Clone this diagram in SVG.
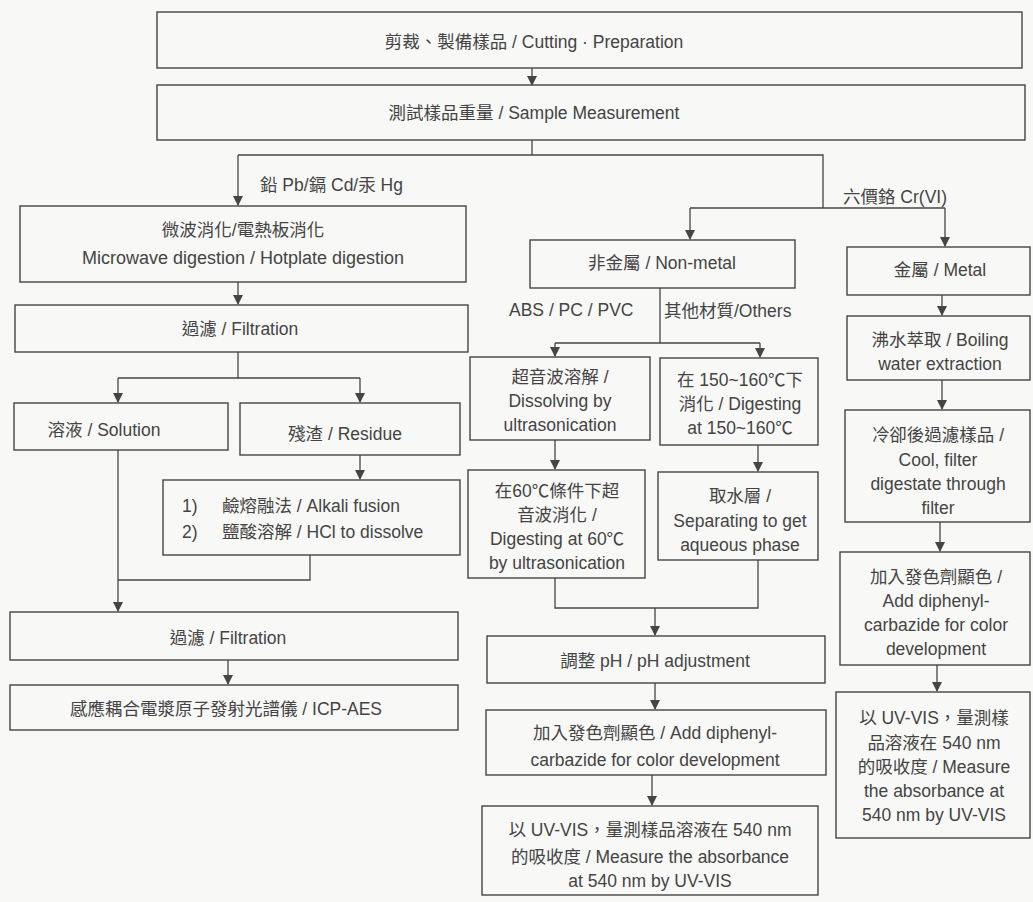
<svg xmlns="http://www.w3.org/2000/svg" width="1033" height="902" viewBox="0 0 1033 902">
<style>
.bx{fill:none;stroke:#454545;stroke-width:1.4}
.ln{fill:none;stroke:#454545;stroke-width:1.3}
.ar{fill:none;stroke:#454545;stroke-width:1.3;marker-end:url(#ah)}
text{font-family:"Liberation Sans","Noto Sans CJK TC",sans-serif;font-size:17.5px;fill:#444;text-anchor:middle}
.lbl{text-anchor:start}
</style>
<defs>
<marker id="ah" viewBox="0 0 10 10" refX="9" refY="5" markerWidth="10" markerHeight="10" markerUnits="userSpaceOnUse" orient="auto">
<path d="M0,0 L10,5 L0,10 z" fill="#454545"/>
</marker>
</defs>
<rect width="1033" height="902" fill="#f8f8f6"/>

<g id="connectors">
<line class="ar" x1="532" y1="68" x2="532" y2="85"/>
<polyline class="ln" points="532,140 532,155"/>
<polyline class="ln" points="238,155 823,155 823,208"/>
<line class="ar" x1="238" y1="155" x2="238" y2="205"/>
<line class="ar" x1="238" y1="282" x2="238" y2="304"/>
<polyline class="ln" points="238,352 238,378"/>
<polyline class="ln" points="118,378 360,378"/>
<line class="ar" x1="118" y1="378" x2="118" y2="402"/>
<line class="ar" x1="360" y1="378" x2="360" y2="402"/>
<line class="ar" x1="360" y1="455" x2="360" y2="479"/>
<polyline class="ln" points="118,450 118,580"/>
<polyline class="ln" points="310,555 310,580 118,580"/>
<line class="ar" x1="118" y1="580" x2="118" y2="611"/>
<line class="ar" x1="228" y1="660" x2="228" y2="684"/>
<polyline class="ln" points="690,208 945,208"/>
<line class="ar" x1="690" y1="208" x2="690" y2="239"/>
<line class="ar" x1="945" y1="208" x2="945" y2="246"/>
<polyline class="ln" points="660,288 660,343"/>
<polyline class="ln" points="555,343 760,343"/>
<line class="ar" x1="555" y1="343" x2="555" y2="356"/>
<line class="ar" x1="760" y1="343" x2="760" y2="357"/>
<line class="ar" x1="555" y1="440" x2="555" y2="469"/>
<line class="ar" x1="758" y1="445" x2="758" y2="471"/>
<polyline class="ln" points="555,578 555,608 758,608 758,560"/>
<line class="ar" x1="655" y1="608" x2="655" y2="635"/>
<line class="ar" x1="655" y1="683" x2="655" y2="709"/>
<line class="ar" x1="652" y1="775" x2="652" y2="805"/>
<line class="ar" x1="942" y1="295" x2="942" y2="315"/>
<line class="ar" x1="942" y1="380" x2="942" y2="409"/>
<line class="ar" x1="940" y1="522" x2="940" y2="551"/>
<line class="ar" x1="937" y1="665" x2="937" y2="691"/>
<text class="lbl" x="260" y="191">鉛 Pb/鎘 Cd/汞 Hg</text>
<text class="lbl" x="843" y="203">六價鉻 Cr(VI)</text>
<text class="lbl" x="509" y="316">ABS / PC / PVC</text>
<text class="lbl" x="664" y="317">其他材質/Others</text>
</g>

<g id="n1"><rect class="bx" x="157" y="12" width="865" height="56"/><text x="534" y="48">剪裁、製備樣品 / Cutting · Preparation</text></g>
<g id="n2"><rect class="bx" x="157" y="85" width="868" height="55"/><text x="534" y="119">測試樣品重量 / Sample Measurement</text></g>

<g id="n3"><rect class="bx" x="20" y="206" width="446" height="76"/><text x="243" y="236">微波消化/電熱板消化</text><text x="243" y="264" style="font-size:18px">Microwave digestion / Hotplate digestion</text></g>
<g id="n4"><rect class="bx" x="15" y="305" width="453" height="47"/><text x="240" y="335">過濾 / Filtration</text></g>
<g id="n5"><rect class="bx" x="14" y="403" width="214" height="47"/><text x="104" y="436">溶液 / Solution</text></g>
<g id="n6"><rect class="bx" x="240" y="403" width="220" height="52"/><text x="345" y="440">殘渣 / Residue</text></g>
<g id="n7"><rect class="bx" x="163" y="480" width="297" height="75"/><text class="lbl" x="182" y="512">1)</text><text class="lbl" x="222" y="512">鹼熔融法 / Alkali fusion</text><text class="lbl" x="182" y="538">2)</text><text class="lbl" x="222" y="538">鹽酸溶解 / HCl to dissolve</text></g>
<g id="n8"><rect class="bx" x="10" y="612" width="448" height="48"/><text x="228" y="644">過濾 / Filtration</text></g>
<g id="n9"><rect class="bx" x="10" y="685" width="448" height="45"/><text x="226" y="715">感應耦合電漿原子發射光譜儀 / ICP-AES</text></g>

<g id="n10"><rect class="bx" x="530" y="240" width="265" height="48"/><text x="662" y="269">非金屬 / Non-metal</text></g>
<g id="n11"><rect class="bx" x="847" y="247" width="183" height="48"/><text x="940" y="276">金屬 / Metal</text></g>

<g id="n12"><rect class="bx" x="470" y="357" width="180" height="83"/><text x="560" y="383">超音波溶解 /</text><text x="560" y="407">Dissolving by</text><text x="560" y="431">ultrasonication</text></g>
<g id="n13"><rect class="bx" x="660" y="358" width="158" height="87"/><text x="740" y="386">在 150~160℃下</text><text x="740" y="410">消化 / Digesting</text><text x="740" y="434">at 150~160℃</text></g>
<g id="n14"><rect class="bx" x="468" y="470" width="177" height="108"/><text x="557" y="497">在60℃條件下超</text><text x="557" y="521">音波消化 /</text><text x="557" y="545">Digesting at 60℃</text><text x="557" y="569">by ultrasonication</text></g>
<g id="n15"><rect class="bx" x="658" y="472" width="160" height="88"/><text x="740" y="502">取水層 /</text><text x="740" y="527">Separating to get</text><text x="740" y="551">aqueous phase</text></g>
<g id="n16"><rect class="bx" x="487" y="636" width="338" height="47"/><text x="655" y="667">調整 pH / pH adjustment</text></g>
<g id="n17"><rect class="bx" x="486" y="710" width="340" height="65"/><text x="655" y="739">加入發色劑顯色 / Add diphenyl-</text><text x="655" y="766">carbazide for color development</text></g>
<g id="n18"><rect class="bx" x="482" y="806" width="336" height="89"/><text x="650" y="836">以 UV-VIS，量測樣品溶液在 540 nm</text><text x="650" y="863">的吸收度 / Measure the absorbance</text><text x="650" y="887">at 540 nm by UV-VIS</text></g>

<g id="n19"><rect class="bx" x="847" y="316" width="183" height="64"/><text x="940" y="346">沸水萃取 / Boiling</text><text x="940" y="370">water extraction</text></g>
<g id="n20"><rect class="bx" x="845" y="410" width="185" height="112"/><text x="938" y="441">冷卻後過濾樣品 /</text><text x="938" y="466">Cool, filter</text><text x="938" y="490">digestate through</text><text x="938" y="514">filter</text></g>
<g id="n21"><rect class="bx" x="840" y="552" width="190" height="113"/><text x="936" y="583">加入發色劑顯色 /</text><text x="936" y="607">Add diphenyl-</text><text x="936" y="631">carbazide for color</text><text x="936" y="655">development</text></g>
<g id="n22"><rect class="bx" x="836" y="692" width="194" height="146"/><text x="934" y="724">以 UV-VIS，量測樣</text><text x="934" y="749">品溶液在 540 nm</text><text x="934" y="773">的吸收度 / Measure</text><text x="934" y="797">the absorbance at</text><text x="934" y="821">540 nm by UV-VIS</text></g>
</svg>
